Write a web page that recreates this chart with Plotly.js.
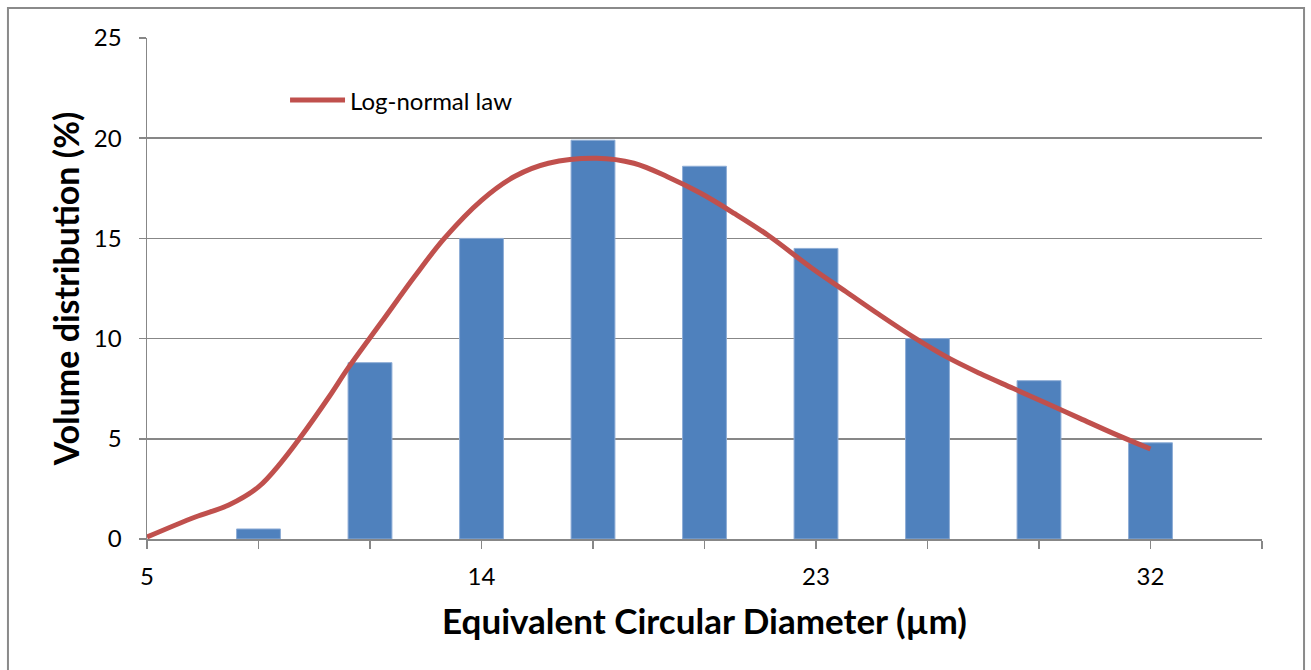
<!DOCTYPE html>
<html>
<head>
<meta charset="utf-8">
<script src="https://cdn.plot.ly/plotly-3.0.1.min.js"></script>
<style>
  html, body { margin: 0; padding: 0; background: #ffffff; }
  #chart { width: 1311px; height: 670px; }
</style>
</head>
<body>
<div id="chart"></div>
<script>
// Histogram bins (equivalent circular diameter, µm) and volume distribution (%)
const binCenters = [8, 11, 14, 17, 20, 23, 26, 29, 32];
const binValues  = [0.5, 8.8, 15.0, 19.9, 18.6, 14.5, 10.0, 7.9, 4.8];

// Log-normal law curve
const curveX = [5, 6.3, 7.2, 8, 8.6, 9.1, 9.9, 10.4, 11.3, 12.2, 13, 14, 14.9, 15.8, 17.1, 18.1, 19, 19.9, 20.8, 21.7, 22.9, 23.8, 24.7, 25.6, 26.5, 27.4, 28.3, 29.2, 30.1, 31, 32];
const curveY = [0.1, 1.1, 1.7, 2.6, 3.8, 5.0, 7.1, 8.5, 10.8, 13.1, 15.0, 16.9, 18.1, 18.75, 19.0, 18.75, 18.08, 17.25, 16.25, 15.17, 13.5, 12.35, 11.2, 10.1, 9.1, 8.27, 7.52, 6.77, 6.02, 5.27, 4.49];

// Axis ticks
const xTickVals = [5, 8, 11, 14, 17, 20, 23, 26, 29, 32, 35];
const xTickText = ['5', '', '', '14', '', '', '23', '', '', '32', ''];
const yTickVals = [0, 5, 10, 15, 20, 25];

const legendLabel = 'Log-normal law';
const FONT = 'Lato, "Open Sans", sans-serif';
const GRID = '#878787';

const traces = [
  {
    type: 'bar',
    x: binCenters,
    y: binValues,
    width: 1.18,
    marker: { color: '#4F81BD', line: { color: '#8EADD6', width: 1 } },
    showlegend: false,
    hoverinfo: 'x+y'
  },
  {
    type: 'scatter',
    mode: 'lines',
    name: legendLabel,
    x: curveX,
    y: curveY,
    line: { color: '#C0504D', width: 5, shape: 'spline', smoothing: 1 },
    showlegend: false
  }
];

const layout = {
  width: 1311,
  height: 670,
  margin: { l: 147, r: 49, t: 38, b: 131 },
  paper_bgcolor: '#ffffff',
  plot_bgcolor: '#ffffff',
  font: { family: FONT, color: '#000000', size: 24 },
  showlegend: false,
  xaxis: {
    range: [5, 35],
    tickmode: 'array',
    tickvals: xTickVals,
    ticktext: xTickText,
    ticks: 'outside',
    ticklen: 8,
    tickwidth: 1.5,
    tickcolor: GRID,
    ticklabelstandoff: 8,
    showline: true,
    linecolor: GRID,
    linewidth: 1.5,
    showgrid: false,
    zeroline: false,
    tickfont: { family: FONT, size: 24, color: '#000' },
    title: { text: '<b>Equivalent Circular Diameter (µm)</b>', font: { family: FONT, size: 35, color: '#000' }, standoff: 20 }
  },
  yaxis: {
    range: [0, 25],
    tickmode: 'array',
    tickvals: yTickVals,
    ticks: 'outside',
    ticklen: 7,
    tickwidth: 1.5,
    tickcolor: GRID,
    ticklabelstandoff: 12,
    showline: true,
    linecolor: GRID,
    linewidth: 1.5,
    showgrid: true,
    gridcolor: GRID,
    gridwidth: 1.5,
    zeroline: false,
    tickfont: { family: FONT, size: 24, color: '#000' },
    title: { text: '<b>Volume distribution (%)</b>', font: { family: FONT, size: 34, color: '#000' }, standoff: 4 }
  },
  shapes: [
    // outer chart frame
    { type: 'rect', xref: 'paper', yref: 'paper', x0: -0.1247, x1: 1.0377, y0: -0.30, y1: 1.0599,
      line: { color: '#8a8a8a', width: 2 }, fillcolor: 'rgba(0,0,0,0)', layer: 'below' },
    // legend sample line
    { type: 'line', xref: 'paper', yref: 'paper', x0: 0.1283, x1: 0.1776, y0: 0.8762, y1: 0.8762,
      line: { color: '#C0504D', width: 5 } }
  ],
  annotations: [
    { xref: 'paper', yref: 'paper', x: 0.1803, y: 0.8762, xanchor: 'left', yanchor: 'middle',
      text: legendLabel, showarrow: false, font: { family: FONT, size: 24, color: '#000' } }
  ]
};

Plotly.newPlot('chart', traces, layout, { displayModeBar: false, staticPlot: true });
</script>
</body>
</html>
